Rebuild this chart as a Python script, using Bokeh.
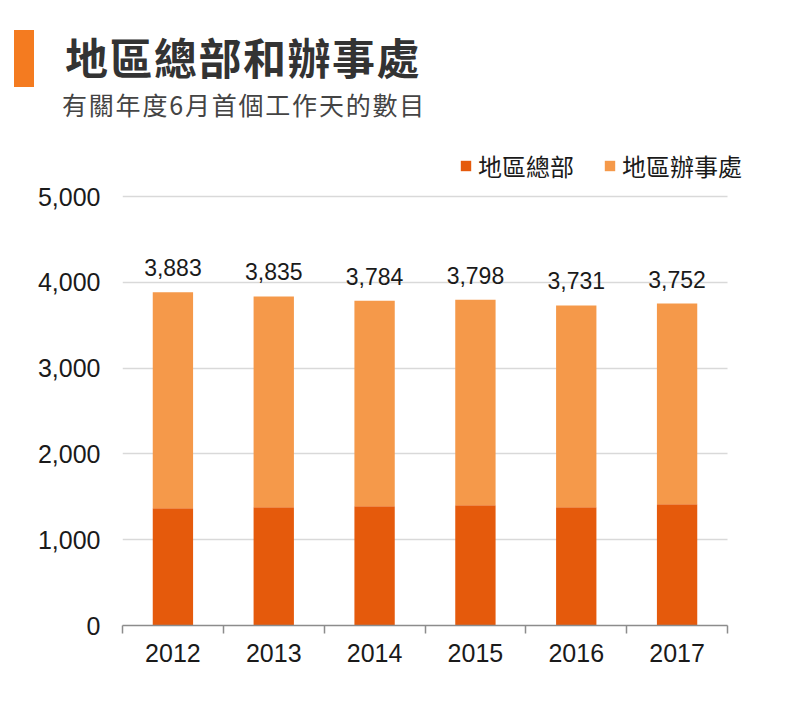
from bokeh.plotting import figure
from bokeh.layouts import column
from bokeh.models import (ColumnDataSource, FixedTicker, Div, Legend, LegendItem,
                          Range1d, NumeralTickFormatter)
from bokeh.core.properties import value
from bokeh.embed import file_html
from bokeh.resources import INLINE

years = ["2012", "2013", "2014", "2015", "2016", "2017"]
hq = [1367, 1379, 1389, 1401, 1379, 1413]
offices = [2516, 2456, 2395, 2397, 2352, 2339]
y_ticks = [0, 1000, 2000, 3000, 4000, 5000]

title_text = "地區總部和辦事處"
subtitle_text = "有關年度6月首個工作天的數目"
series_names = ["地區總部", "地區辦事處"]

DARK = "#E55A0C"
LIGHT = "#F5994A"
CJK = "Noto Sans CJK TC"
NUM = "Liberation Sans"

W, H = 800, 725
HEAD = 130                            # height of the header block
FL, FR, FT, FB = 122, 727, 196, 625   # where the axes sit, in page pixels
FRAME_R = 775                         # frame reaches a bit further right (legend)
YMAX = 5000
N = len(years)
pos = [i + 0.5 for i in range(N)]
totals = [a + b for a, b in zip(hq, offices)]
src = ColumnDataSource(dict(
    x=pos, hq=hq, offices=offices, total=totals,
    lbl=[f"{t:,}" for t in totals],
))

header = Div(text=(
    f'<div style="position:relative;width:{W}px;height:{HEAD}px;">'
    '<div style="position:absolute;left:14px;top:30px;width:20px;height:57px;'
    'background:#F47B20;"></div>'
    f'<div style="position:absolute;left:65px;top:34px;white-space:nowrap;'
    f"font-family:'{CJK}';font-weight:bold;font-size:43px;line-height:44px;"
    f'letter-spacing:1.5px;color:#333333;">{title_text}</div>'
    f'<div style="position:absolute;left:62px;top:91px;white-space:nowrap;'
    f"font-family:'{CJK}';font-size:25px;line-height:26px;"
    f'letter-spacing:1.8px;color:#444444;">{subtitle_text}</div>'
    '</div>'), width=W, height=HEAD, margin=0)

y_top = YMAX * (FB - HEAD) / (FB - FT)          # frame reaches up to the header
x_right = N * (FRAME_R - FL) / (FR - FL)
p = figure(width=W, height=H - HEAD, output_backend="svg", toolbar_location=None,
           x_range=Range1d(0, x_right), y_range=Range1d(0, y_top),
           min_border_left=FL, min_border_right=W - FRAME_R, min_border_top=0,
           min_border_bottom=H - FB, margin=0)
p.outline_line_color = None
p.background_fill_color = "white"
p.border_fill_color = "white"

r1 = p.vbar(x="x", bottom=0, top="hq", width=0.4, source=src,
            fill_color=DARK, line_color=None)
r2 = p.vbar(x="x", bottom="hq", top="total", width=0.4, source=src,
            fill_color=LIGHT, line_color=None)

p.text(x="x", y="total", text="lbl", source=src, text_align="center",
       text_baseline="bottom", y_offset=-16, text_font=value(NUM),
       text_font_size="23px", text_color="#1a1a1a")

xa = p.xaxis[0]
xa.bounds = (0, N)
xa.ticker = FixedTicker(ticks=pos, minor_ticks=list(range(N + 1)))
xa.major_label_overrides = {x: y for x, y in zip(pos, years)}
xa.major_tick_line_color = None
xa.minor_tick_in = 0
xa.minor_tick_out = 8
xa.minor_tick_line_color = "#8c8c8c"
xa.axis_line_color = "#8c8c8c"
xa.axis_line_width = 1.5
xa.minor_tick_line_width = 1.5
xa.major_label_text_font = NUM
xa.major_label_text_font_size = "25px"
xa.major_label_text_color = "#1a1a1a"
xa.major_label_standoff = 10

ya = p.yaxis[0]
ya.ticker = FixedTicker(ticks=y_ticks)
ya.formatter = NumeralTickFormatter(format="0,0")
ya.axis_line_color = None
ya.major_tick_line_color = None
ya.minor_tick_line_color = None
ya.major_label_text_font = NUM
ya.major_label_text_font_size = "25px"
ya.major_label_text_color = "#1a1a1a"
ya.major_label_standoff = 16

p.xgrid.grid_line_color = None
p.ygrid.grid_line_color = "#d9d9d9"
p.ygrid.grid_line_width = 1.5
p.ygrid.cross_bounds = (0, N)

legend = Legend(items=[LegendItem(label=series_names[0], renderers=[r1]),
                       LegendItem(label=series_names[1], renderers=[r2])],
                orientation="horizontal", location=(459 - FL, FB - 169 - 14),
                label_text_font=CJK, label_text_font_size="24px",
                label_text_color="#1a1a1a", glyph_width=13, glyph_height=13,
                padding=0, margin=0, spacing=29, label_standoff=6,
                background_fill_alpha=0, border_line_color=None)
p.add_layout(legend, "center")

open("out.html", "w").write(file_html(column(header, p, spacing=0), INLINE))
